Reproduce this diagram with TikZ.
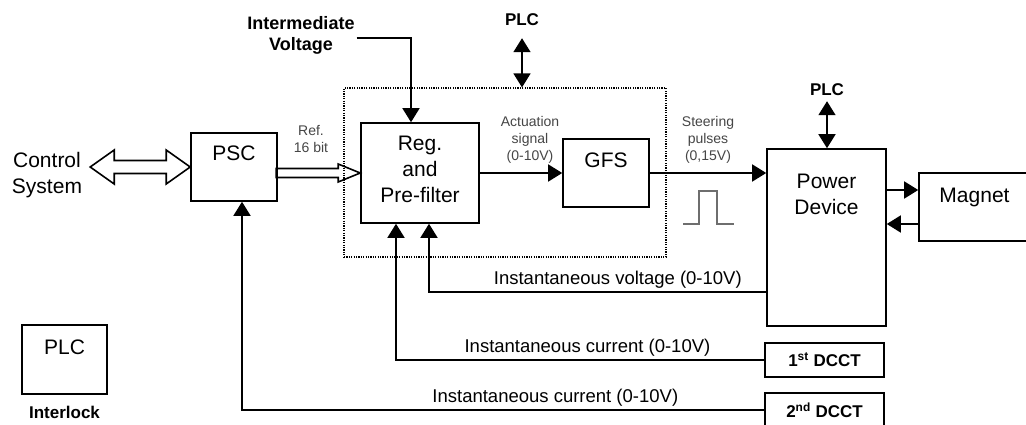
\documentclass[tikz,border=0pt]{standalone}
\usepackage{fontspec}
\setmainfont{Liberation Sans}
\usetikzlibrary{arrows.meta, positioning, calc}
\definecolor{lblgray}{RGB}{70,70,70}
\definecolor{pulsegray}{RGB}{110,110,110}

\begin{document}
\begin{tikzpicture}[
    x=1pt, y=-1pt,
    >={Triangle[length=14pt, width=17pt]},
    %% ── node styles ──────────────────────────────────────────────────────────
    block/.style={
        draw, line width=1.6pt, inner sep=0pt,
        font=\fontsize{21}{26}\selectfont, align=center
    },
    dcct/.style={
        draw, line width=1.6pt, inner sep=0pt,
        minimum width=119pt, minimum height=34pt,
        font=\fontsize{17}{20}\selectfont\bfseries
    },
    plain/.style={font=\fontsize{21}{26}\selectfont, align=center},
    tag/.style={font=\fontsize{17}{20}\selectfont\bfseries, inner sep=2pt},
    note/.style={
        font=\fontsize{14}{17}\selectfont, text=lblgray,
        align=center, inner sep=1pt
    },
    fbnote/.style={font=\fontsize{18.5}{21}\selectfont, above=1pt, inner sep=2pt},
    %% ── edge styles ──────────────────────────────────────────────────────────
    sig/.style={->, line width=1.6pt},
    plink/.style={<->, line width=1.6pt},
    hollow/.style={draw, line width=1.6pt, line join=miter},
]

\useasboundingbox (0,0) rectangle (1026,425);
\fill[white] (0,0) rectangle (1026,425);
\clip (0,0) rectangle (1026,425);

%% ── Main chain: PSC, regulator, gate firing, power device, load ─────────────
\node[block, minimum width=86pt, minimum height=68pt,
      text height=15pt, text depth=28pt] (psc) at (234,167) {PSC};
\node[block, minimum width=118pt, minimum height=100pt,
      text height=67pt, text depth=8pt] (reg) at (420,173)
    {Reg.\\and\\Pre-filter};
\node[block, minimum width=86pt, minimum height=68pt,
      text height=15pt, text depth=26pt] (gfs) at (606,173) {GFS};
\node[block, minimum width=119pt, minimum height=177pt,
      text height=39pt, text depth=85pt] (power) at (826.5,237.5)
    {Power\\Device};
\node[block, minimum width=111pt, minimum height=68pt,
      text height=15pt, text depth=24pt] (magnet) at (974.5,207) {Magnet};

%% dotted frame round the regulator card
\node[draw, line width=1.2pt, dash pattern=on 1.2pt off 1.2pt,
      minimum width=322pt, minimum height=169pt, inner sep=0pt]
    (frame) at (505,172.5) {};

%% ── Current transformers ────────────────────────────────────────────────────
\node[dcct] (dccta) at (824.5,360) {1\textsuperscript{st} DCCT};
\node[dcct] (dcctb) at (824.5,410) {2\textsuperscript{nd} DCCT};

%% ── Interlock PLC ───────────────────────────────────────────────────────────
\node[block, minimum width=85pt, minimum height=69pt,
      text height=15pt, text depth=25pt] (plc) at (64.5,359.5) {PLC};
\node[tag, below=9pt of plc] (ilock) {Interlock};

%% ── Free labels ─────────────────────────────────────────────────────────────
\node[plain] (ctrl) at (47,175) {Control\\System};
\node[tag, font=\fontsize{18}{21}\selectfont\bfseries, align=center]
    (ivolt) at (301,35) {Intermediate\\Voltage};
\node[tag] (plca) at (522,20) {PLC};
\node[tag] (plcb) at (827,90) {PLC};

\node[note] (reflbl) at (311,139) {Ref.\\16 bit};
\node[note] (actlbl) at (530,140) {Actuation\\signal\\(0-10V)};
\node[note] (steerlbl) at (708,140) {Steering\\pulses\\(0,15V)};

%% ── Hollow bus arrows ───────────────────────────────────────────────────────
%% control system <-> PSC
\draw[hollow] (psc.west) -- ++(-24,-17) -- ++(0,10.5) -- ++(-52,0)
    -- ++(0,-10.5) -- ++(-24,17) -- ++(24,17) -- ++(0,-10.5)
    -- ++(52,0) -- ++(0,10.5) -- cycle;
%% PSC -> regulator (16 bit reference)
\draw[hollow] (reg.west) -- ++(-22,-9) -- ++(0,4.5) -- ++(-62,0)
    -- ++(0,9) -- ++(62,0) -- ++(0,4.5) -- cycle;

%% ── Forward signals ─────────────────────────────────────────────────────────
\draw[sig] ([yshift=-3pt]ivolt.east) -| ($(reg.north)+(-9,0)$);
\draw[sig] (reg.east) -- (gfs.west);
\draw[sig] (gfs.east) -- (gfs.east -| power.west);

%% steering pulse sketch
\draw[pulsegray, line width=1.2pt] (683,224) -- ++(16,0) -- ++(0,-33)
    -- ++(18,0) -- ++(0,33) -- ++(17,0);

%% power device <-> magnet
\coordinate (magin) at ($(magnet.west)+(0,-17)$);
\coordinate (magout) at ($(magnet.west)+(0,17)$);
\draw[sig] (power.east |- magin) -- (magin);
\draw[sig] (magout) -- (power.east |- magout);

%% PLC links
\draw[plink] ([yshift=-10pt]plca.south) -- (plca.south |- frame.north);
\draw[plink] ([yshift=-3pt]plcb.south) -- (plcb.south |- power.north);

%% ── Feedback paths ──────────────────────────────────────────────────────────
\draw[sig] ($(power.south west)+(0,-35)$)
    -| node[fbnote, pos=0.22] (vlbl) {Instantaneous voltage (0-10V)}
    ($(reg.south)+(9,0)$);
\draw[sig] (dccta.west)
    -| node[fbnote, pos=0.24] (ialbl) {Instantaneous current (0-10V)}
    ($(reg.south)+(-24,0)$);
\draw[sig] (dcctb.west)
    -| node[fbnote, pos=0.2] (iblbl) {Instantaneous current (0-10V)}
    ($(psc.south)+(8,0)$);

\end{tikzpicture}
\end{document}
